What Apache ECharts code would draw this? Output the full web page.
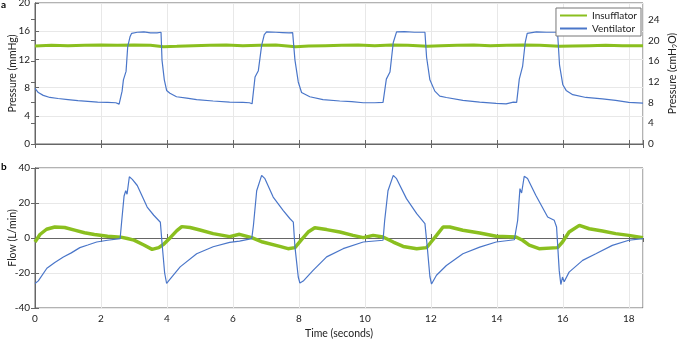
<!DOCTYPE html>
<html>
<head>
<meta charset="utf-8">
<script src="https://cdn.jsdelivr.net/npm/echarts@6/dist/echarts.min.js"></script>
<style>
  html, body { margin: 0; padding: 0; background: #fff; }
  #chart { width: 677px; height: 339px; }
</style>
</head>
<body>
<div id="chart"></div>
<script>
// time in seconds, pressure in mmHg
var ventPressT = [0, 0.1, 0.25, 0.45, 0.7, 1.0, 1.3, 1.6, 1.9, 2.2, 2.45, 2.55, 2.6, 2.64, 2.68, 2.76, 2.81, 2.88, 2.93, 3.1, 3.3, 3.5, 3.7, 3.82, 3.85, 3.92, 3.99, 4.09, 4.29, 4.6, 4.9, 5.4, 5.9, 6.3, 6.5, 6.58, 6.62, 6.67, 6.77, 6.87, 6.95, 7.02, 7.3, 7.5, 7.7, 7.81, 7.88, 7.98, 8.08, 8.33, 8.73, 9.24, 9.6, 9.95, 10.3, 10.55, 10.6, 10.65, 10.76, 10.86, 10.96, 11.2, 11.5, 11.82, 11.87, 11.97, 12.12, 12.27, 12.47, 12.97, 13.48, 13.98, 14.28, 14.5, 14.6, 14.68, 14.78, 14.86, 14.92, 15.2, 15.5, 15.84, 15.9, 16.0, 16.1, 16.3, 16.7, 17.2, 17.6, 18.0, 18.43];
var ventPress = [7.9, 7.3, 6.9, 6.6, 6.45, 6.3, 6.15, 6.05, 5.95, 5.9, 5.85, 5.65, 5.75, 7.5, 9.1, 10.3, 13.8, 15.2, 15.7, 15.85, 15.9, 15.75, 15.75, 15.85, 11.9, 9.1, 7.6, 7.2, 6.7, 6.5, 6.3, 6.1, 5.95, 5.9, 5.85, 5.7, 5.8, 9.5, 10.4, 14.0, 15.5, 15.9, 15.85, 15.8, 15.75, 15.8, 11.9, 8.8, 7.3, 6.7, 6.3, 6.1, 6.0, 5.85, 5.85, 5.9, 6.0, 9.2, 10.2, 14.4, 15.9, 15.95, 15.85, 15.85, 12.3, 9.1, 7.5, 6.8, 6.6, 6.2, 5.95, 5.75, 5.7, 5.95, 5.9, 9.2, 11.0, 14.4, 15.7, 15.9, 15.85, 15.85, 11.2, 8.4, 7.6, 7.0, 6.6, 6.4, 6.2, 5.9, 5.8];

var insPressT = [0, 0.5, 1, 1.5, 2, 2.5, 3, 3.5, 3.9, 4.3, 4.8, 5.3, 5.8, 6.3, 6.8, 7.3, 7.9, 8.3, 8.8, 9.3, 9.8, 10.3, 10.8, 11.3, 11.9, 12.3, 12.8, 13.3, 13.8, 14.3, 14.8, 15.3, 15.9, 16.3, 16.8, 17.3, 17.8, 18.43];
var insPress = [13.9, 14.0, 13.95, 14.0, 14.05, 14.0, 14.05, 14.0, 13.8, 13.85, 13.95, 14.0, 14.05, 13.95, 14.0, 14.05, 13.8, 13.9, 13.95, 14.0, 14.05, 13.95, 14.05, 14.0, 13.85, 13.95, 14.0, 14.05, 13.95, 14.0, 14.05, 14.0, 13.85, 13.9, 13.95, 14.0, 13.95, 13.95];

// flow in L/min
var ventFlowT = [0, 0.1, 0.36, 0.6, 0.86, 1.1, 1.36, 1.6, 1.87, 2.2, 2.58, 2.63, 2.7, 2.75, 2.79, 2.86, 2.95, 3.1, 3.4, 3.6, 3.8, 3.86, 3.93, 3.99, 4.05, 4.4, 4.9, 5.4, 5.9, 6.2, 6.57, 6.62, 6.72, 6.77, 6.87, 6.97, 7.22, 7.52, 7.73, 7.83, 7.88, 7.98, 8.03, 8.13, 8.43, 8.84, 9.34, 9.95, 10.55, 10.6, 10.7, 10.75, 10.86, 10.96, 11.26, 11.57, 11.82, 11.89, 11.97, 12.02, 12.17, 12.47, 12.97, 13.48, 13.98, 14.53, 14.58, 14.63, 14.7, 14.75, 14.83, 14.93, 15.18, 15.54, 15.74, 15.81, 15.89, 15.94, 15.99, 16.04, 16.19, 16.6, 17.0, 17.5, 18.0, 18.43];
var ventFlow = [-26, -24.5, -17.3, -14, -10.9, -8.5, -5.5, -4, -2.3, -1.3, -0.4, 10, 24, 27, 25, 35, 33.5, 30, 17.7, 13, 9, -5, -20, -26, -24.5, -16.5, -9, -5, -2.5, -1.8, -0.4, 7, 27, 26, 35.8, 33.9, 23.4, 15.8, 11, 9.1, -5.1, -22.3, -25.7, -24.6, -18.5, -10.8, -6.1, -2.3, -1.3, 10.1, 27, 26, 35.8, 33.9, 22.5, 13.9, 8.2, -5, -22, -26.3, -21.3, -15.7, -9, -5.2, -2.3, -1, -0.4, 10, 28.2, 25.7, 35.3, 34, 24.4, 12, 10.1, 6.3, -18.5, -26.6, -22.3, -25, -19.5, -12.8, -9, -4.2, -1.3, -0.4];

var insFlowT = [0, 0.15, 0.35, 0.6, 0.9, 1.2, 1.5, 1.8, 2.2, 2.6, 2.8, 3.0, 3.3, 3.55, 3.75, 3.9, 4.1, 4.3, 4.45, 4.7, 5.0, 5.4, 5.9, 6.2, 6.57, 6.9, 7.42, 7.67, 7.88, 8.08, 8.28, 8.48, 8.84, 9.24, 9.64, 9.95, 10.25, 10.55, 10.86, 11.16, 11.57, 11.87, 12.02, 12.17, 12.37, 12.57, 12.97, 13.48, 13.98, 14.58, 14.78, 14.98, 15.28, 15.84, 15.99, 16.19, 16.5, 16.8, 17.2, 17.6, 18.0, 18.43];
var insFlow = [-2.3, 2, 5, 6.3, 6, 4.5, 3, 2, 1, 0.5, -0.3, -1.2, -4, -6.5, -5.5, -3.6, 0.2, 4.2, 6.5, 6, 4.6, 2.5, 0.8, 2.1, 0.2, -2.3, -4.8, -6.1, -5.5, -0.9, 3.4, 5.9, 4.8, 3.4, 1.5, 0.2, 1.5, 0.6, -2.3, -4.8, -6.1, -5.5, -2, 1.5, 6.3, 6.3, 4.4, 2.9, 1, 0.6, -1.3, -4.1, -6.1, -5.5, -2.3, 3.4, 7.2, 5.3, 4, 2.5, 1.5, 0.2];

var timeMax = 18.43;
var mmHgToCmH2O = 1.35951;

function pairs(t, v) {
    var out = [];
    for (var i = 0; i < t.length; i++) {
        out.push([t[i], v[i]]);
    }
    return out;
}

var green = '#8abf1f';
var blue = '#4a76c9';
var axisCol = '#666';
var font = 'Lato';

var chart = echarts.init(document.getElementById('chart'));

function xAx(grid, pos, labels) {
    return {
        type: 'value', gridIndex: grid, position: pos,
        min: 0, max: timeMax, interval: 2,
        axisLine: {show: true, lineStyle: {color: axisCol}},
        axisTick: {show: true, inside: true, length: 4, lineStyle: {color: axisCol}},
        axisLabel: {show: labels, color: '#222', fontFamily: font, fontSize: 10, showMaxLabel: false, margin: 6},
        splitLine: {show: pos === 'bottom', lineStyle: {color: '#e8e8e8'}}
    };
}

var option = {
    animation: false,
    textStyle: {fontFamily: font},
    grid: [
        {left: 35, right: 34, top: 3, height: 141, containLabel: false, outerBoundsMode: 'none',
         show: true, borderColor: axisCol, borderWidth: 1},
        {left: 35, right: 34, top: 168, height: 140, containLabel: false, outerBoundsMode: 'none',
         show: true, borderColor: axisCol, borderWidth: 1}
    ],
    legend: {
        right: 36, top: 8, orient: 'vertical',
        data: [
            {name: 'Insufflator', icon: 'rect'},
            {name: 'Ventilator', icon: 'rect'}
        ],
        backgroundColor: '#fff', borderColor: '#777', borderWidth: 1,
        padding: [1, 4], itemGap: 0, itemWidth: 27, itemHeight: 2,
        textStyle: {fontFamily: font, fontSize: 10, color: '#222', lineHeight: 13}
    },
    xAxis: [
        xAx(0, 'bottom', false),
        xAx(0, 'top', false),
        Object.assign(xAx(1, 'bottom', true), {
            name: 'Time (seconds)', nameLocation: 'middle', nameGap: 20, nameMoveOverlap: false,
            nameTextStyle: {fontFamily: font, fontSize: 10.5, color: '#222'}
        }),
        xAx(1, 'top', false)
    ],
    yAxis: [
        {
            type: 'value', gridIndex: 0, min: 0, max: 20, interval: 4,
            name: 'Pressure (mmHg)', nameLocation: 'middle', nameGap: 17, nameMoveOverlap: false,
            nameTextStyle: {fontFamily: font, fontSize: 10.5, color: '#222'},
            axisLine: {show: true, lineStyle: {color: axisCol}},
            axisTick: {show: true, inside: true, length: 4, lineStyle: {color: axisCol}},
            axisLabel: {color: '#222', fontFamily: font, fontSize: 10, margin: 5},
            splitLine: {lineStyle: {color: '#e8e8e8'}}
        },
        {
            type: 'value', gridIndex: 0, position: 'right',
            min: 0, max: 20 * mmHgToCmH2O, interval: 4,
            name: '{n|Pressure (cmH}{s|2}{n|O)}', nameLocation: 'middle', nameGap: 24, nameMoveOverlap: false,
            nameTextStyle: {
                rich: {
                    n: {fontFamily: font, fontSize: 10.5, color: '#222'},
                    s: {fontFamily: font, fontSize: 7, color: '#222', padding: [5, 0, 0, 0]}
                }
            },
            axisLine: {show: true, lineStyle: {color: axisCol}},
            axisTick: {show: true, inside: true, length: 4, lineStyle: {color: axisCol}},
            axisLabel: {color: '#222', fontFamily: font, fontSize: 10, margin: 5, showMaxLabel: false},
            splitLine: {show: false}
        },
        {
            type: 'value', gridIndex: 1, min: -40, max: 40, interval: 20,
            name: 'Flow (L/min)', nameLocation: 'middle', nameGap: 17, nameMoveOverlap: false,
            nameTextStyle: {fontFamily: font, fontSize: 10.5, color: '#222'},
            axisLine: {show: true, lineStyle: {color: axisCol}},
            axisTick: {show: true, inside: true, length: 4, lineStyle: {color: axisCol}},
            axisLabel: {color: '#222', fontFamily: font, fontSize: 10, margin: 5},
            splitLine: {lineStyle: {color: '#e8e8e8'}}
        },
        {
            type: 'value', gridIndex: 1, position: 'right', min: -40, max: 40, interval: 20,
            axisLine: {show: true, lineStyle: {color: axisCol}},
            axisTick: {show: true, inside: true, length: 4, lineStyle: {color: axisCol}},
            axisLabel: {show: false},
            splitLine: {show: false}
        }
    ],
    series: [
        {
            name: 'Insufflator', type: 'line', xAxisIndex: 0, yAxisIndex: 0,
            symbol: 'none', data: pairs(insPressT, insPress),
            lineStyle: {color: green, width: 3}, itemStyle: {color: green}
        },
        {
            name: 'Ventilator', type: 'line', xAxisIndex: 0, yAxisIndex: 0,
            symbol: 'none', data: pairs(ventPressT, ventPress),
            lineStyle: {color: blue, width: 1.2}, itemStyle: {color: blue}
        },
        {
            name: 'Insufflator', type: 'line', xAxisIndex: 2, yAxisIndex: 2,
            symbol: 'none', data: pairs(insFlowT, insFlow),
            lineStyle: {color: green, width: 3.5}, itemStyle: {color: green}
        },
        {
            name: 'Ventilator', type: 'line', xAxisIndex: 2, yAxisIndex: 2,
            symbol: 'none', data: pairs(ventFlowT, ventFlow),
            lineStyle: {color: blue, width: 1.2}, itemStyle: {color: blue}
        }
    ],
    graphic: [
        {type: 'text', left: 1, top: 0, style: {text: 'a', font: 'bold 10px Lato', fill: '#000'}},
        {type: 'text', left: 1, top: 162, style: {text: 'b', font: 'bold 10px Lato', fill: '#000'}}
    ]
};

chart.setOption(option);
</script>
</body>
</html>
